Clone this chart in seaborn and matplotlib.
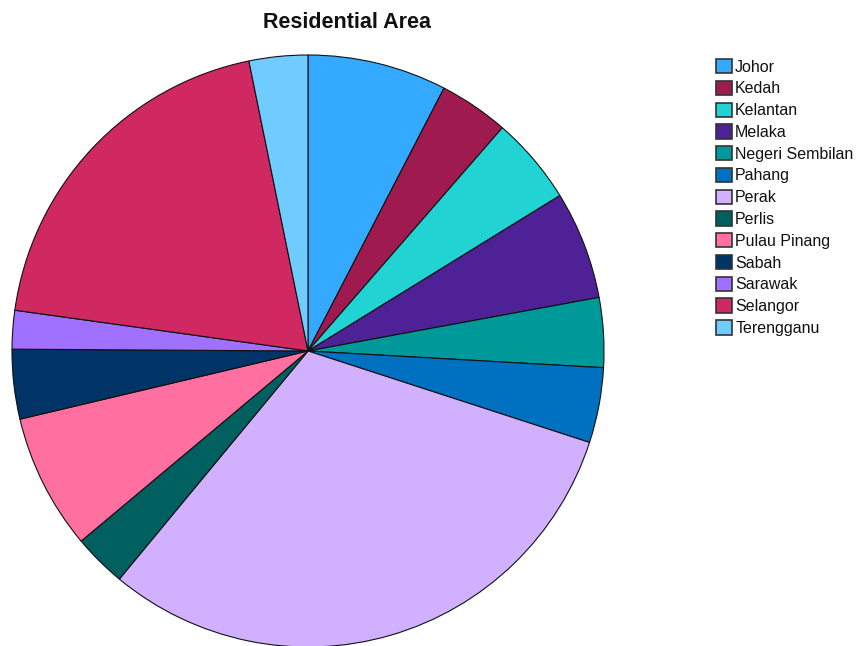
import matplotlib
matplotlib.use("Agg")
import matplotlib.pyplot as plt
from matplotlib.patches import Patch
import seaborn as sns

states = ["Johor", "Kedah", "Kelantan", "Melaka", "Negeri Sembilan", "Pahang",
          "Perak", "Perlis", "Pulau Pinang", "Sabah", "Sarawak", "Selangor",
          "Terengganu"]
share = [7.6, 3.8, 4.8, 5.9, 3.8, 4.1, 31.0, 2.9, 7.4, 3.8, 2.1, 19.6, 3.2]
colors = ["#33AAFF", "#9E1A4F", "#22D3D3", "#4F2196", "#009999", "#0070C0",
          "#D0B0FF", "#006060", "#FF70A0", "#003366", "#A070FF", "#D02860",
          "#70CCFF"]

sns.set_theme(style="white")
plt.rcParams["font.family"] = ["Liberation Sans", "DejaVu Sans"]

W, H = 861, 646
fig = plt.figure(figsize=(W / 100, H / 100), dpi=100)

cx, cy, r = 308, 351, 296
ax = fig.add_axes([(cx - r) / W, (H - cy - r) / H, 2 * r / W, 2 * r / H])
wedges, _ = ax.pie(share, colors=colors, startangle=90, counterclock=False,
                   radius=1.0,
                   wedgeprops=dict(edgecolor="#111111", linewidth=0.8))
for w in wedges:
    w.set_clip_on(False)
ax.set_xlim(-1, 1)
ax.set_ylim(-1, 1)
ax.axis("off")

fig.text(347 / W, 1 - 23 / H, "Residential Area", ha="center", va="center",
         fontsize=15.5, fontweight="bold", color="#111111")

handles = [Patch(facecolor=c, edgecolor="#333333", linewidth=1.2) for c in colors]
fig.legend(handles, states, loc="upper left",
           bbox_to_anchor=(716 / W, 1 - 59 / H), frameon=False,
           fontsize=11.5, handlelength=1.0, handleheight=1.0,
           handletextpad=0.2, labelspacing=0.385, borderpad=0.0,
           borderaxespad=0, labelcolor="#111111")

fig.savefig("out.png", dpi=100, facecolor="white")
